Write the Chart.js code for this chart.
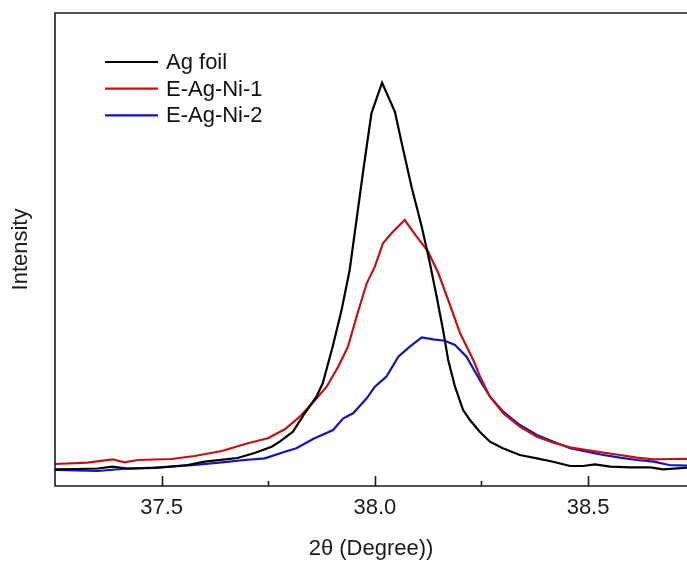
<!DOCTYPE html>
<html>
<head>
<meta charset="utf-8">
<script src="https://cdn.jsdelivr.net/npm/chart.js@4.4.1/dist/chart.umd.min.js"></script>
<style>
  html, body { margin: 0; padding: 0; overflow: hidden; background: #fff; }
</style>
</head>
<body>
<canvas id="chartXRD" width="687" height="563"></canvas>
<script>
// 2theta positions and intensities (arbitrary units)
const agX = [37.25, 37.30, 37.35, 37.385, 37.42, 37.484, 37.561, 37.601, 37.678, 37.718, 37.758, 37.777, 37.808, 37.836, 37.863, 37.878, 37.901, 37.922, 37.941, 37.957, 37.973, 37.992, 38.017, 38.047, 38.063, 38.086, 38.110, 38.129, 38.145, 38.160, 38.172, 38.188, 38.207, 38.223, 38.246, 38.270, 38.300, 38.340, 38.380, 38.418, 38.458, 38.488, 38.516, 38.552, 38.599, 38.646, 38.676, 38.709, 38.750];
const agY = [16.7, 17, 17.5, 19.3, 17.5, 18, 21, 24.3, 28, 33, 39.3, 44.3, 54.3, 73, 89.3, 103, 139.3, 176, 216, 266, 316, 372.7, 403.3, 374.3, 343, 299.3, 259.3, 223, 189.3, 156, 126, 99.3, 76, 66, 54.3, 44.3, 37.7, 31, 27.7, 24.3, 20, 20, 21.7, 19.3, 18.7, 18.7, 16.7, 17.7, 18.7];

const ni1X = [37.25, 37.326, 37.385, 37.413, 37.444, 37.523, 37.577, 37.641, 37.702, 37.749, 37.789, 37.824, 37.854, 37.887, 37.914, 37.937, 37.957, 37.981, 38.000, 38.019, 38.039, 38.070, 38.098, 38.125, 38.149, 38.172, 38.200, 38.233, 38.246, 38.270, 38.301, 38.340, 38.380, 38.419, 38.458, 38.497, 38.536, 38.575, 38.614, 38.653, 38.692, 38.750];
const ni1Y = [22, 23.3, 26.7, 23.7, 26, 27, 30, 35, 42.7, 47.7, 56.7, 69.3, 83, 99.3, 119.3, 139.3, 169.3, 202.7, 219.3, 242.7, 252.7, 266, 249.3, 234.3, 212.7, 186, 152.7, 124, 110, 89.3, 72.7, 59.3, 49.3, 43.3, 38.7, 36, 33.3, 31, 28.3, 26.7, 27, 27.3];

const ni2X = [37.25, 37.35, 37.406, 37.484, 37.523, 37.577, 37.641, 37.695, 37.742, 37.789, 37.816, 37.855, 37.902, 37.926, 37.949, 37.981, 38.000, 38.027, 38.055, 38.082, 38.110, 38.137, 38.164, 38.188, 38.215, 38.246, 38.270, 38.301, 38.340, 38.380, 38.419, 38.458, 38.497, 38.536, 38.575, 38.614, 38.654, 38.690, 38.750];
const ni2Y = [16, 15, 17, 18.3, 19.3, 21, 23.7, 26, 27.7, 34.3, 37.7, 47, 56, 67.7, 72.7, 87.7, 99.3, 109.3, 129.3, 139.3, 148.7, 146.7, 145.3, 141, 129.3, 106, 89.3, 74.3, 61, 51, 44.3, 37.7, 34.3, 31, 28.3, 26, 24.3, 21, 20];

const seriesLabels = ['Ag foil', 'E-Ag-Ni-1', 'E-Ag-Ni-2'];
const seriesColors = ['#000000', '#c01414', '#1414b8'];
const majorTicks = [37.5, 38.0, 38.5];
const minorTicks = [37.75, 38.25];

const FONT = '"Liberation Sans", Arial, sans-serif';

function toPoints(xs, ys) {
  const pts = [];
  for (let i = 0; i < xs.length; i++) pts.push({ x: xs[i], y: ys[i] });
  return pts;
}

// frame (right side falls off the picture), inward ticks, legend inside the plot
const framePlugin = {
  id: 'frame',
  afterDraw(chart) {
    const ctx = chart.ctx;
    const a = chart.chartArea;
    const xs = chart.scales.x;
    ctx.save();
    ctx.strokeStyle = '#1a1a1a';
    ctx.lineWidth = 1.6;
    ctx.beginPath();
    ctx.moveTo(a.right + 2, a.top);
    ctx.lineTo(a.left, a.top);
    ctx.lineTo(a.left, a.bottom);
    ctx.lineTo(a.right + 2, a.bottom);
    ctx.stroke();

    majorTicks.forEach(v => {
      const px = Math.round(xs.getPixelForValue(v)) + 0.5;
      ctx.beginPath();
      ctx.moveTo(px, a.bottom);
      ctx.lineTo(px, a.bottom - 10);
      ctx.stroke();
    });
    minorTicks.forEach(v => {
      const px = Math.round(xs.getPixelForValue(v)) + 0.5;
      ctx.beginPath();
      ctx.moveTo(px, a.bottom);
      ctx.lineTo(px, a.bottom - 5);
      ctx.stroke();
    });

    // legend
    ctx.font = '22px ' + FONT;
    ctx.textBaseline = 'middle';
    ctx.fillStyle = '#111';
    chart.data.datasets.forEach((ds, i) => {
      const y = 62 + i * 26.7;
      ctx.strokeStyle = ds.borderColor;
      ctx.lineWidth = 2.2;
      ctx.beginPath();
      ctx.moveTo(105, y);
      ctx.lineTo(158, y);
      ctx.stroke();
      ctx.fillText(ds.label, 166, y + 1);
    });
    ctx.restore();
  }
};

const ctx = document.getElementById('chartXRD').getContext('2d');

const myChart = new Chart(ctx, {
  type: 'line',
  data: {
    datasets: [
      { label: seriesLabels[0], data: toPoints(agX, agY), borderColor: seriesColors[0] },
      { label: seriesLabels[1], data: toPoints(ni1X, ni1Y), borderColor: seriesColors[1] },
      { label: seriesLabels[2], data: toPoints(ni2X, ni2Y), borderColor: seriesColors[2] }
    ]
  },
  options: {
    responsive: false,
    animation: false,
    events: [],
    datasets: {
      line: { borderWidth: 2.2, pointRadius: 0, tension: 0, fill: false }
    },
    layout: { padding: { top: 13, left: 0, right: 0, bottom: 0 } },
    plugins: {
      legend: { display: false },
      tooltip: { enabled: false }
    },
    scales: {
      x: {
        type: 'linear',
        min: 37.25,
        max: 38.732,
        afterFit(scale) { scale.height = 77; },
        afterBuildTicks(scale) {
          scale.ticks = majorTicks.map(v => ({ value: v }));
        },
        grid: { display: false, drawTicks: false },
        border: { display: false },
        ticks: {
          padding: 9,
          maxRotation: 0,
          autoSkip: false,
          color: '#1a1a1a',
          font: { family: FONT, size: 22 },
          callback: v => v.toFixed(1)
        },
        title: {
          display: true,
          text: '2θ (Degree))',
          color: '#1a1a1a',
          font: { family: FONT, size: 22 },
          padding: { top: 0, bottom: 1 }
        }
      },
      y: {
        min: 0,
        max: 473,
        afterFit(scale) { scale.width = 55; },
        grid: { display: false, drawTicks: false },
        border: { display: false },
        ticks: { display: false },
        title: {
          display: true,
          text: 'Intensity',
          color: '#1a1a1a',
          font: { family: FONT, size: 22 },
          padding: { top: 8, bottom: 0 }
        }
      }
    }
  },
  plugins: [framePlugin]
});
</script>
</body>
</html>
